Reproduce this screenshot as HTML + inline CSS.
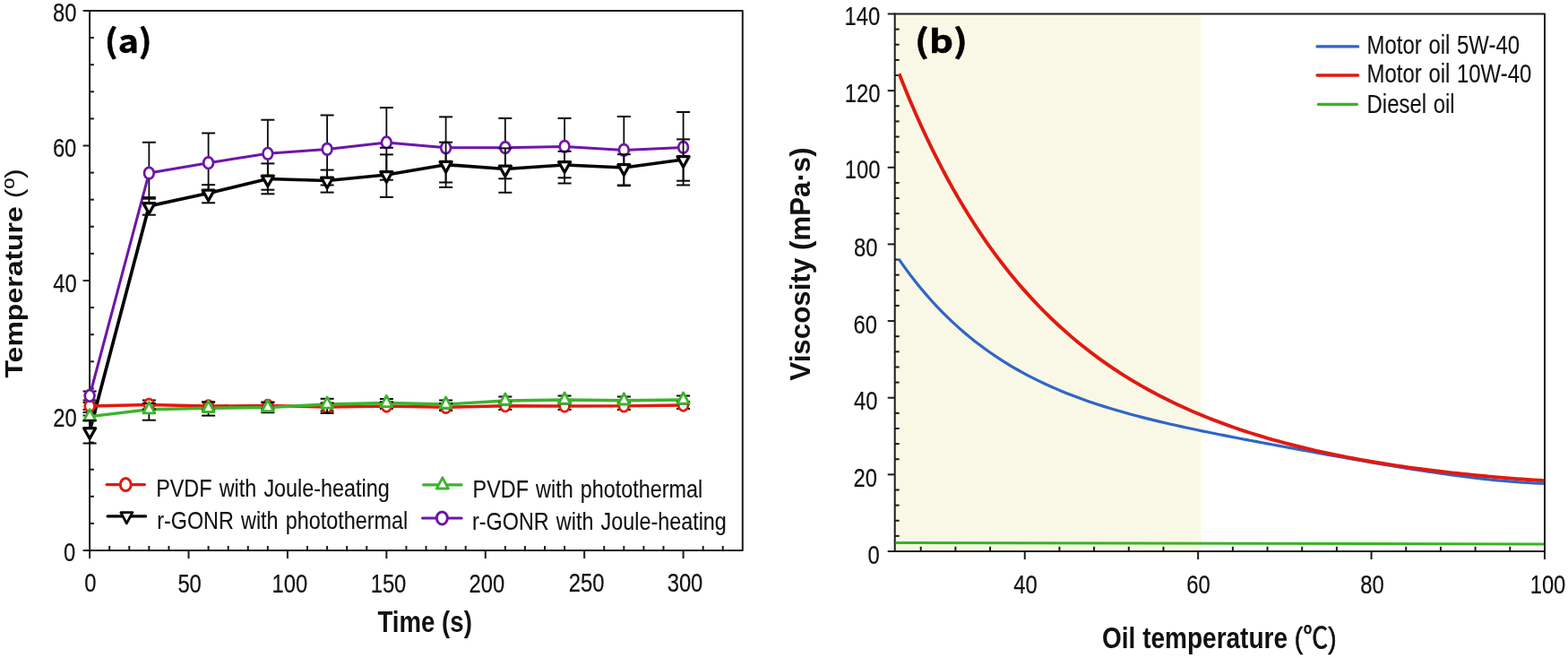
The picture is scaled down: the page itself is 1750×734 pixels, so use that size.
<!DOCTYPE html>
<html><head><meta charset="utf-8"><title>Figure</title>
<style>html,body{margin:0;padding:0;background:#fff;}svg{display:block;}</style>
</head><body>
<svg width="1750" height="734" viewBox="0 0 1750 734">
<rect width="1750" height="734" fill="#fff"/>
<path d="M100.1 12 H828.8 V614 H100.1" fill="none" stroke="#1c1c1c" stroke-width="2.0" stroke-linejoin="round"/>
<line x1="100.1" y1="11" x2="100.1" y2="615" stroke="#1c1c1c" stroke-width="2" stroke-linecap="butt"/>
<line x1="92.6" y1="614" x2="100.1" y2="614" stroke="#1c1c1c" stroke-width="2" stroke-linecap="butt"/>
<line x1="100.1" y1="583.9" x2="104.9" y2="583.9" stroke="#1c1c1c" stroke-width="2" stroke-linecap="butt"/>
<line x1="100.1" y1="553.8" x2="104.9" y2="553.8" stroke="#1c1c1c" stroke-width="2" stroke-linecap="butt"/>
<line x1="100.1" y1="523.7" x2="104.9" y2="523.7" stroke="#1c1c1c" stroke-width="2" stroke-linecap="butt"/>
<line x1="100.1" y1="493.6" x2="104.9" y2="493.6" stroke="#1c1c1c" stroke-width="2" stroke-linecap="butt"/>
<line x1="92.6" y1="463.5" x2="100.1" y2="463.5" stroke="#1c1c1c" stroke-width="2" stroke-linecap="butt"/>
<line x1="100.1" y1="433.4" x2="104.9" y2="433.4" stroke="#1c1c1c" stroke-width="2" stroke-linecap="butt"/>
<line x1="100.1" y1="403.3" x2="104.9" y2="403.3" stroke="#1c1c1c" stroke-width="2" stroke-linecap="butt"/>
<line x1="100.1" y1="373.2" x2="104.9" y2="373.2" stroke="#1c1c1c" stroke-width="2" stroke-linecap="butt"/>
<line x1="100.1" y1="343.1" x2="104.9" y2="343.1" stroke="#1c1c1c" stroke-width="2" stroke-linecap="butt"/>
<line x1="92.6" y1="313" x2="100.1" y2="313" stroke="#1c1c1c" stroke-width="2" stroke-linecap="butt"/>
<line x1="100.1" y1="282.9" x2="104.9" y2="282.9" stroke="#1c1c1c" stroke-width="2" stroke-linecap="butt"/>
<line x1="100.1" y1="252.8" x2="104.9" y2="252.8" stroke="#1c1c1c" stroke-width="2" stroke-linecap="butt"/>
<line x1="100.1" y1="222.7" x2="104.9" y2="222.7" stroke="#1c1c1c" stroke-width="2" stroke-linecap="butt"/>
<line x1="100.1" y1="192.6" x2="104.9" y2="192.6" stroke="#1c1c1c" stroke-width="2" stroke-linecap="butt"/>
<line x1="92.6" y1="162.5" x2="100.1" y2="162.5" stroke="#1c1c1c" stroke-width="2" stroke-linecap="butt"/>
<line x1="100.1" y1="132.4" x2="104.9" y2="132.4" stroke="#1c1c1c" stroke-width="2" stroke-linecap="butt"/>
<line x1="100.1" y1="102.3" x2="104.9" y2="102.3" stroke="#1c1c1c" stroke-width="2" stroke-linecap="butt"/>
<line x1="100.1" y1="72.2" x2="104.9" y2="72.2" stroke="#1c1c1c" stroke-width="2" stroke-linecap="butt"/>
<line x1="100.1" y1="42.1" x2="104.9" y2="42.1" stroke="#1c1c1c" stroke-width="2" stroke-linecap="butt"/>
<line x1="92.6" y1="12" x2="100.1" y2="12" stroke="#1c1c1c" stroke-width="2" stroke-linecap="butt"/>
<line x1="100.1" y1="614" x2="100.1" y2="623" stroke="#1c1c1c" stroke-width="2" stroke-linecap="butt"/>
<line x1="122.183" y1="609" x2="122.183" y2="614" stroke="#1c1c1c" stroke-width="2" stroke-linecap="butt"/>
<line x1="144.266" y1="609" x2="144.266" y2="614" stroke="#1c1c1c" stroke-width="2" stroke-linecap="butt"/>
<line x1="166.349" y1="609" x2="166.349" y2="614" stroke="#1c1c1c" stroke-width="2" stroke-linecap="butt"/>
<line x1="188.432" y1="609" x2="188.432" y2="614" stroke="#1c1c1c" stroke-width="2" stroke-linecap="butt"/>
<line x1="210.515" y1="614" x2="210.515" y2="623" stroke="#1c1c1c" stroke-width="2" stroke-linecap="butt"/>
<line x1="232.598" y1="609" x2="232.598" y2="614" stroke="#1c1c1c" stroke-width="2" stroke-linecap="butt"/>
<line x1="254.681" y1="609" x2="254.681" y2="614" stroke="#1c1c1c" stroke-width="2" stroke-linecap="butt"/>
<line x1="276.764" y1="609" x2="276.764" y2="614" stroke="#1c1c1c" stroke-width="2" stroke-linecap="butt"/>
<line x1="298.847" y1="609" x2="298.847" y2="614" stroke="#1c1c1c" stroke-width="2" stroke-linecap="butt"/>
<line x1="320.93" y1="614" x2="320.93" y2="623" stroke="#1c1c1c" stroke-width="2" stroke-linecap="butt"/>
<line x1="343.013" y1="609" x2="343.013" y2="614" stroke="#1c1c1c" stroke-width="2" stroke-linecap="butt"/>
<line x1="365.096" y1="609" x2="365.096" y2="614" stroke="#1c1c1c" stroke-width="2" stroke-linecap="butt"/>
<line x1="387.179" y1="609" x2="387.179" y2="614" stroke="#1c1c1c" stroke-width="2" stroke-linecap="butt"/>
<line x1="409.262" y1="609" x2="409.262" y2="614" stroke="#1c1c1c" stroke-width="2" stroke-linecap="butt"/>
<line x1="431.345" y1="614" x2="431.345" y2="623" stroke="#1c1c1c" stroke-width="2" stroke-linecap="butt"/>
<line x1="453.428" y1="609" x2="453.428" y2="614" stroke="#1c1c1c" stroke-width="2" stroke-linecap="butt"/>
<line x1="475.511" y1="609" x2="475.511" y2="614" stroke="#1c1c1c" stroke-width="2" stroke-linecap="butt"/>
<line x1="497.594" y1="609" x2="497.594" y2="614" stroke="#1c1c1c" stroke-width="2" stroke-linecap="butt"/>
<line x1="519.677" y1="609" x2="519.677" y2="614" stroke="#1c1c1c" stroke-width="2" stroke-linecap="butt"/>
<line x1="541.76" y1="614" x2="541.76" y2="623" stroke="#1c1c1c" stroke-width="2" stroke-linecap="butt"/>
<line x1="563.843" y1="609" x2="563.843" y2="614" stroke="#1c1c1c" stroke-width="2" stroke-linecap="butt"/>
<line x1="585.926" y1="609" x2="585.926" y2="614" stroke="#1c1c1c" stroke-width="2" stroke-linecap="butt"/>
<line x1="608.009" y1="609" x2="608.009" y2="614" stroke="#1c1c1c" stroke-width="2" stroke-linecap="butt"/>
<line x1="630.092" y1="609" x2="630.092" y2="614" stroke="#1c1c1c" stroke-width="2" stroke-linecap="butt"/>
<line x1="652.175" y1="614" x2="652.175" y2="623" stroke="#1c1c1c" stroke-width="2" stroke-linecap="butt"/>
<line x1="674.258" y1="609" x2="674.258" y2="614" stroke="#1c1c1c" stroke-width="2" stroke-linecap="butt"/>
<line x1="696.341" y1="609" x2="696.341" y2="614" stroke="#1c1c1c" stroke-width="2" stroke-linecap="butt"/>
<line x1="718.424" y1="609" x2="718.424" y2="614" stroke="#1c1c1c" stroke-width="2" stroke-linecap="butt"/>
<line x1="740.507" y1="609" x2="740.507" y2="614" stroke="#1c1c1c" stroke-width="2" stroke-linecap="butt"/>
<line x1="762.59" y1="614" x2="762.59" y2="623" stroke="#1c1c1c" stroke-width="2" stroke-linecap="butt"/>
<line x1="784.673" y1="609" x2="784.673" y2="614" stroke="#1c1c1c" stroke-width="2" stroke-linecap="butt"/>
<line x1="806.756" y1="609" x2="806.756" y2="614" stroke="#1c1c1c" stroke-width="2" stroke-linecap="butt"/>
<text transform="translate(72.3,24) scale(0.793,1)" font-size="30" text-anchor="middle" font-weight="normal" font-family="'Liberation Sans', Arial, sans-serif" fill="#111" stroke="#111" stroke-width="0.2">80</text>
<text transform="translate(72.1,175.2) scale(0.793,1)" font-size="30" text-anchor="middle" font-weight="normal" font-family="'Liberation Sans', Arial, sans-serif" fill="#111" stroke="#111" stroke-width="0.2">60</text>
<text transform="translate(72.4,326.2) scale(0.793,1)" font-size="30" text-anchor="middle" font-weight="normal" font-family="'Liberation Sans', Arial, sans-serif" fill="#111" stroke="#111" stroke-width="0.2">40</text>
<text transform="translate(72.4,476) scale(0.793,1)" font-size="30" text-anchor="middle" font-weight="normal" font-family="'Liberation Sans', Arial, sans-serif" fill="#111" stroke="#111" stroke-width="0.2">20</text>
<text transform="translate(77.6,625.8) scale(0.793,1)" font-size="30" text-anchor="middle" font-weight="normal" font-family="'Liberation Sans', Arial, sans-serif" fill="#111" stroke="#111" stroke-width="0.2">0</text>
<text transform="translate(100.9,660.4) scale(0.793,1)" font-size="30" text-anchor="middle" font-weight="normal" font-family="'Liberation Sans', Arial, sans-serif" fill="#111" stroke="#111" stroke-width="0.2">0</text>
<text transform="translate(211.6,661.2) scale(0.793,1)" font-size="30" text-anchor="middle" font-weight="normal" font-family="'Liberation Sans', Arial, sans-serif" fill="#111" stroke="#111" stroke-width="0.2">50</text>
<text transform="translate(323.4,660.8) scale(0.793,1)" font-size="30" text-anchor="middle" font-weight="normal" font-family="'Liberation Sans', Arial, sans-serif" fill="#111" stroke="#111" stroke-width="0.2">100</text>
<text transform="translate(433.5,660.8) scale(0.793,1)" font-size="30" text-anchor="middle" font-weight="normal" font-family="'Liberation Sans', Arial, sans-serif" fill="#111" stroke="#111" stroke-width="0.2">150</text>
<text transform="translate(543.3,660.8) scale(0.793,1)" font-size="30" text-anchor="middle" font-weight="normal" font-family="'Liberation Sans', Arial, sans-serif" fill="#111" stroke="#111" stroke-width="0.2">200</text>
<text transform="translate(654.6,660.4) scale(0.793,1)" font-size="30" text-anchor="middle" font-weight="normal" font-family="'Liberation Sans', Arial, sans-serif" fill="#111" stroke="#111" stroke-width="0.2">250</text>
<text transform="translate(764.5,660.4) scale(0.793,1)" font-size="30" text-anchor="middle" font-weight="normal" font-family="'Liberation Sans', Arial, sans-serif" fill="#111" stroke="#111" stroke-width="0.2">300</text>
<polyline points="100.1,481 166.349,229.9 232.598,215.5 298.847,199.5 365.096,201.5 431.345,195 497.594,183.7 563.843,188.5 630.092,184 696.341,187 762.59,178" fill="none" stroke="#050505" stroke-width="3.7" stroke-linejoin="round"/>
<polyline points="100.1,453 166.349,451.5 232.598,453 298.847,452.5 365.096,454 431.345,453 497.594,454.3 563.843,452.7 630.092,453 696.341,452.9 762.59,452" fill="none" stroke="#e01a0e" stroke-width="3.4" stroke-linejoin="round"/>
<polyline points="100.1,464.6 166.349,456.7 232.598,455.3 298.847,454.5 365.096,451 431.345,449.5 497.594,451 563.843,447 630.092,446 696.341,446.8 762.59,446" fill="none" stroke="#3cb42c" stroke-width="3.4" stroke-linejoin="round"/>
<polyline points="100.1,441.5 166.349,193.1 232.598,181.7 298.847,171.3 365.096,166.4 431.345,159 497.594,164.8 563.843,164.7 630.092,163.4 696.341,167.4 762.59,164.4" fill="none" stroke="#6e16aa" stroke-width="3" stroke-linejoin="round"/>
<line x1="100.1" y1="449" x2="100.1" y2="457" stroke="#0a0a0a" stroke-width="1.8" stroke-linecap="butt"/>
<line x1="92.6" y1="449" x2="107.6" y2="449" stroke="#0a0a0a" stroke-width="2" stroke-linecap="butt"/>
<line x1="92.6" y1="457" x2="107.6" y2="457" stroke="#0a0a0a" stroke-width="2" stroke-linecap="butt"/>
<line x1="166.349" y1="446.5" x2="166.349" y2="456.5" stroke="#0a0a0a" stroke-width="1.8" stroke-linecap="butt"/>
<line x1="158.849" y1="446.5" x2="173.849" y2="446.5" stroke="#0a0a0a" stroke-width="2" stroke-linecap="butt"/>
<line x1="158.849" y1="456.5" x2="173.849" y2="456.5" stroke="#0a0a0a" stroke-width="2" stroke-linecap="butt"/>
<line x1="232.598" y1="448.5" x2="232.598" y2="457.5" stroke="#0a0a0a" stroke-width="1.8" stroke-linecap="butt"/>
<line x1="225.098" y1="448.5" x2="240.098" y2="448.5" stroke="#0a0a0a" stroke-width="2" stroke-linecap="butt"/>
<line x1="225.098" y1="457.5" x2="240.098" y2="457.5" stroke="#0a0a0a" stroke-width="2" stroke-linecap="butt"/>
<line x1="298.847" y1="448.5" x2="298.847" y2="456.5" stroke="#0a0a0a" stroke-width="1.8" stroke-linecap="butt"/>
<line x1="291.347" y1="448.5" x2="306.347" y2="448.5" stroke="#0a0a0a" stroke-width="2" stroke-linecap="butt"/>
<line x1="291.347" y1="456.5" x2="306.347" y2="456.5" stroke="#0a0a0a" stroke-width="2" stroke-linecap="butt"/>
<line x1="365.096" y1="449.5" x2="365.096" y2="458.5" stroke="#0a0a0a" stroke-width="1.8" stroke-linecap="butt"/>
<line x1="357.596" y1="449.5" x2="372.596" y2="449.5" stroke="#0a0a0a" stroke-width="2" stroke-linecap="butt"/>
<line x1="357.596" y1="458.5" x2="372.596" y2="458.5" stroke="#0a0a0a" stroke-width="2" stroke-linecap="butt"/>
<line x1="431.345" y1="448.3" x2="431.345" y2="456" stroke="#0a0a0a" stroke-width="1.8" stroke-linecap="butt"/>
<line x1="423.845" y1="448.3" x2="438.845" y2="448.3" stroke="#0a0a0a" stroke-width="2" stroke-linecap="butt"/>
<line x1="423.845" y1="456" x2="438.845" y2="456" stroke="#0a0a0a" stroke-width="2" stroke-linecap="butt"/>
<line x1="497.594" y1="450" x2="497.594" y2="458" stroke="#0a0a0a" stroke-width="1.8" stroke-linecap="butt"/>
<line x1="490.094" y1="450" x2="505.094" y2="450" stroke="#0a0a0a" stroke-width="2" stroke-linecap="butt"/>
<line x1="490.094" y1="458" x2="505.094" y2="458" stroke="#0a0a0a" stroke-width="2" stroke-linecap="butt"/>
<line x1="563.843" y1="448.5" x2="563.843" y2="457" stroke="#0a0a0a" stroke-width="1.8" stroke-linecap="butt"/>
<line x1="556.343" y1="448.5" x2="571.343" y2="448.5" stroke="#0a0a0a" stroke-width="2" stroke-linecap="butt"/>
<line x1="556.343" y1="457" x2="571.343" y2="457" stroke="#0a0a0a" stroke-width="2" stroke-linecap="butt"/>
<line x1="630.092" y1="449" x2="630.092" y2="457" stroke="#0a0a0a" stroke-width="1.8" stroke-linecap="butt"/>
<line x1="622.592" y1="449" x2="637.592" y2="449" stroke="#0a0a0a" stroke-width="2" stroke-linecap="butt"/>
<line x1="622.592" y1="457" x2="637.592" y2="457" stroke="#0a0a0a" stroke-width="2" stroke-linecap="butt"/>
<line x1="696.341" y1="449" x2="696.341" y2="457" stroke="#0a0a0a" stroke-width="1.8" stroke-linecap="butt"/>
<line x1="688.841" y1="449" x2="703.841" y2="449" stroke="#0a0a0a" stroke-width="2" stroke-linecap="butt"/>
<line x1="688.841" y1="457" x2="703.841" y2="457" stroke="#0a0a0a" stroke-width="2" stroke-linecap="butt"/>
<line x1="762.59" y1="448" x2="762.59" y2="456" stroke="#0a0a0a" stroke-width="1.8" stroke-linecap="butt"/>
<line x1="755.09" y1="448" x2="770.09" y2="448" stroke="#0a0a0a" stroke-width="2" stroke-linecap="butt"/>
<line x1="755.09" y1="456" x2="770.09" y2="456" stroke="#0a0a0a" stroke-width="2" stroke-linecap="butt"/>
<ellipse cx="100.1" cy="453" rx="5.386" ry="6.3" fill="#fff" stroke="#e01a0e" stroke-width="2.7"/>
<ellipse cx="166.349" cy="451.5" rx="5.386" ry="6.3" fill="#fff" stroke="#e01a0e" stroke-width="2.7"/>
<ellipse cx="232.598" cy="453" rx="5.386" ry="6.3" fill="#fff" stroke="#e01a0e" stroke-width="2.7"/>
<ellipse cx="298.847" cy="452.5" rx="5.386" ry="6.3" fill="#fff" stroke="#e01a0e" stroke-width="2.7"/>
<ellipse cx="365.096" cy="454" rx="5.386" ry="6.3" fill="#fff" stroke="#e01a0e" stroke-width="2.7"/>
<ellipse cx="431.345" cy="453" rx="5.386" ry="6.3" fill="#fff" stroke="#e01a0e" stroke-width="2.7"/>
<ellipse cx="497.594" cy="454.3" rx="5.386" ry="6.3" fill="#fff" stroke="#e01a0e" stroke-width="2.7"/>
<ellipse cx="563.843" cy="452.7" rx="5.386" ry="6.3" fill="#fff" stroke="#e01a0e" stroke-width="2.7"/>
<ellipse cx="630.092" cy="453" rx="5.386" ry="6.3" fill="#fff" stroke="#e01a0e" stroke-width="2.7"/>
<ellipse cx="696.341" cy="452.9" rx="5.386" ry="6.3" fill="#fff" stroke="#e01a0e" stroke-width="2.7"/>
<ellipse cx="762.59" cy="452" rx="5.386" ry="6.3" fill="#fff" stroke="#e01a0e" stroke-width="2.7"/>
<line x1="100.1" y1="460" x2="100.1" y2="469.5" stroke="#0a0a0a" stroke-width="1.8" stroke-linecap="butt"/>
<line x1="92.6" y1="460" x2="107.6" y2="460" stroke="#0a0a0a" stroke-width="2" stroke-linecap="butt"/>
<line x1="92.6" y1="469.5" x2="107.6" y2="469.5" stroke="#0a0a0a" stroke-width="2" stroke-linecap="butt"/>
<line x1="166.349" y1="450" x2="166.349" y2="468.7" stroke="#0a0a0a" stroke-width="1.8" stroke-linecap="butt"/>
<line x1="158.849" y1="450" x2="173.849" y2="450" stroke="#0a0a0a" stroke-width="2" stroke-linecap="butt"/>
<line x1="158.849" y1="468.7" x2="173.849" y2="468.7" stroke="#0a0a0a" stroke-width="2" stroke-linecap="butt"/>
<line x1="232.598" y1="448.5" x2="232.598" y2="463.6" stroke="#0a0a0a" stroke-width="1.8" stroke-linecap="butt"/>
<line x1="225.098" y1="448.5" x2="240.098" y2="448.5" stroke="#0a0a0a" stroke-width="2" stroke-linecap="butt"/>
<line x1="225.098" y1="463.6" x2="240.098" y2="463.6" stroke="#0a0a0a" stroke-width="2" stroke-linecap="butt"/>
<line x1="298.847" y1="449" x2="298.847" y2="460.2" stroke="#0a0a0a" stroke-width="1.8" stroke-linecap="butt"/>
<line x1="291.347" y1="449" x2="306.347" y2="449" stroke="#0a0a0a" stroke-width="2" stroke-linecap="butt"/>
<line x1="291.347" y1="460.2" x2="306.347" y2="460.2" stroke="#0a0a0a" stroke-width="2" stroke-linecap="butt"/>
<line x1="365.096" y1="444.8" x2="365.096" y2="460.9" stroke="#0a0a0a" stroke-width="1.8" stroke-linecap="butt"/>
<line x1="357.596" y1="444.8" x2="372.596" y2="444.8" stroke="#0a0a0a" stroke-width="2" stroke-linecap="butt"/>
<line x1="357.596" y1="460.9" x2="372.596" y2="460.9" stroke="#0a0a0a" stroke-width="2" stroke-linecap="butt"/>
<line x1="431.345" y1="445" x2="431.345" y2="454" stroke="#0a0a0a" stroke-width="1.8" stroke-linecap="butt"/>
<line x1="423.845" y1="445" x2="438.845" y2="445" stroke="#0a0a0a" stroke-width="2" stroke-linecap="butt"/>
<line x1="423.845" y1="454" x2="438.845" y2="454" stroke="#0a0a0a" stroke-width="2" stroke-linecap="butt"/>
<line x1="497.594" y1="446.5" x2="497.594" y2="455.5" stroke="#0a0a0a" stroke-width="1.8" stroke-linecap="butt"/>
<line x1="490.094" y1="446.5" x2="505.094" y2="446.5" stroke="#0a0a0a" stroke-width="2" stroke-linecap="butt"/>
<line x1="490.094" y1="455.5" x2="505.094" y2="455.5" stroke="#0a0a0a" stroke-width="2" stroke-linecap="butt"/>
<line x1="563.843" y1="442.5" x2="563.843" y2="451.5" stroke="#0a0a0a" stroke-width="1.8" stroke-linecap="butt"/>
<line x1="556.343" y1="442.5" x2="571.343" y2="442.5" stroke="#0a0a0a" stroke-width="2" stroke-linecap="butt"/>
<line x1="556.343" y1="451.5" x2="571.343" y2="451.5" stroke="#0a0a0a" stroke-width="2" stroke-linecap="butt"/>
<line x1="630.092" y1="441.5" x2="630.092" y2="450.5" stroke="#0a0a0a" stroke-width="1.8" stroke-linecap="butt"/>
<line x1="622.592" y1="441.5" x2="637.592" y2="441.5" stroke="#0a0a0a" stroke-width="2" stroke-linecap="butt"/>
<line x1="622.592" y1="450.5" x2="637.592" y2="450.5" stroke="#0a0a0a" stroke-width="2" stroke-linecap="butt"/>
<line x1="696.341" y1="442.5" x2="696.341" y2="451" stroke="#0a0a0a" stroke-width="1.8" stroke-linecap="butt"/>
<line x1="688.841" y1="442.5" x2="703.841" y2="442.5" stroke="#0a0a0a" stroke-width="2" stroke-linecap="butt"/>
<line x1="688.841" y1="451" x2="703.841" y2="451" stroke="#0a0a0a" stroke-width="2" stroke-linecap="butt"/>
<line x1="762.59" y1="441.5" x2="762.59" y2="450.5" stroke="#0a0a0a" stroke-width="1.8" stroke-linecap="butt"/>
<line x1="755.09" y1="441.5" x2="770.09" y2="441.5" stroke="#0a0a0a" stroke-width="2" stroke-linecap="butt"/>
<line x1="755.09" y1="450.5" x2="770.09" y2="450.5" stroke="#0a0a0a" stroke-width="2" stroke-linecap="butt"/>
<path d="M93.6 468.8 L106.6 468.8 L100.1 456.6 Z" fill="#fff" stroke="#3cb42c" stroke-width="2.8" stroke-linejoin="round"/>
<path d="M159.849 460.9 L172.849 460.9 L166.349 448.7 Z" fill="#fff" stroke="#3cb42c" stroke-width="2.8" stroke-linejoin="round"/>
<path d="M226.098 459.5 L239.098 459.5 L232.598 447.3 Z" fill="#fff" stroke="#3cb42c" stroke-width="2.8" stroke-linejoin="round"/>
<path d="M292.347 458.7 L305.347 458.7 L298.847 446.5 Z" fill="#fff" stroke="#3cb42c" stroke-width="2.8" stroke-linejoin="round"/>
<path d="M358.596 455.2 L371.596 455.2 L365.096 443 Z" fill="#fff" stroke="#3cb42c" stroke-width="2.8" stroke-linejoin="round"/>
<path d="M424.845 453.7 L437.845 453.7 L431.345 441.5 Z" fill="#fff" stroke="#3cb42c" stroke-width="2.8" stroke-linejoin="round"/>
<path d="M491.094 455.2 L504.094 455.2 L497.594 443 Z" fill="#fff" stroke="#3cb42c" stroke-width="2.8" stroke-linejoin="round"/>
<path d="M557.343 451.2 L570.343 451.2 L563.843 439 Z" fill="#fff" stroke="#3cb42c" stroke-width="2.8" stroke-linejoin="round"/>
<path d="M623.592 450.2 L636.592 450.2 L630.092 438 Z" fill="#fff" stroke="#3cb42c" stroke-width="2.8" stroke-linejoin="round"/>
<path d="M689.841 451 L702.841 451 L696.341 438.8 Z" fill="#fff" stroke="#3cb42c" stroke-width="2.8" stroke-linejoin="round"/>
<path d="M756.09 450.2 L769.09 450.2 L762.59 438 Z" fill="#fff" stroke="#3cb42c" stroke-width="2.8" stroke-linejoin="round"/>
<line x1="100.1" y1="436.5" x2="100.1" y2="446.5" stroke="#0a0a0a" stroke-width="1.8" stroke-linecap="butt"/>
<line x1="92.6" y1="436.5" x2="107.6" y2="436.5" stroke="#0a0a0a" stroke-width="2" stroke-linecap="butt"/>
<line x1="92.6" y1="446.5" x2="107.6" y2="446.5" stroke="#0a0a0a" stroke-width="2" stroke-linecap="butt"/>
<line x1="166.349" y1="158.8" x2="166.349" y2="221.7" stroke="#0a0a0a" stroke-width="1.8" stroke-linecap="butt"/>
<line x1="158.849" y1="158.8" x2="173.849" y2="158.8" stroke="#0a0a0a" stroke-width="2" stroke-linecap="butt"/>
<line x1="158.849" y1="221.7" x2="173.849" y2="221.7" stroke="#0a0a0a" stroke-width="2" stroke-linecap="butt"/>
<line x1="232.598" y1="148.5" x2="232.598" y2="214.9" stroke="#0a0a0a" stroke-width="1.8" stroke-linecap="butt"/>
<line x1="225.098" y1="148.5" x2="240.098" y2="148.5" stroke="#0a0a0a" stroke-width="2" stroke-linecap="butt"/>
<line x1="225.098" y1="214.9" x2="240.098" y2="214.9" stroke="#0a0a0a" stroke-width="2" stroke-linecap="butt"/>
<line x1="298.847" y1="133.7" x2="298.847" y2="211.7" stroke="#0a0a0a" stroke-width="1.8" stroke-linecap="butt"/>
<line x1="291.347" y1="133.7" x2="306.347" y2="133.7" stroke="#0a0a0a" stroke-width="2" stroke-linecap="butt"/>
<line x1="291.347" y1="211.7" x2="306.347" y2="211.7" stroke="#0a0a0a" stroke-width="2" stroke-linecap="butt"/>
<line x1="365.096" y1="128.5" x2="365.096" y2="206.5" stroke="#0a0a0a" stroke-width="1.8" stroke-linecap="butt"/>
<line x1="357.596" y1="128.5" x2="372.596" y2="128.5" stroke="#0a0a0a" stroke-width="2" stroke-linecap="butt"/>
<line x1="357.596" y1="206.5" x2="372.596" y2="206.5" stroke="#0a0a0a" stroke-width="2" stroke-linecap="butt"/>
<line x1="431.345" y1="120.1" x2="431.345" y2="200.7" stroke="#0a0a0a" stroke-width="1.8" stroke-linecap="butt"/>
<line x1="423.845" y1="120.1" x2="438.845" y2="120.1" stroke="#0a0a0a" stroke-width="2" stroke-linecap="butt"/>
<line x1="423.845" y1="200.7" x2="438.845" y2="200.7" stroke="#0a0a0a" stroke-width="2" stroke-linecap="butt"/>
<line x1="497.594" y1="130.4" x2="497.594" y2="203.5" stroke="#0a0a0a" stroke-width="1.8" stroke-linecap="butt"/>
<line x1="490.094" y1="130.4" x2="505.094" y2="130.4" stroke="#0a0a0a" stroke-width="2" stroke-linecap="butt"/>
<line x1="490.094" y1="203.5" x2="505.094" y2="203.5" stroke="#0a0a0a" stroke-width="2" stroke-linecap="butt"/>
<line x1="563.843" y1="131.9" x2="563.843" y2="199.3" stroke="#0a0a0a" stroke-width="1.8" stroke-linecap="butt"/>
<line x1="556.343" y1="131.9" x2="571.343" y2="131.9" stroke="#0a0a0a" stroke-width="2" stroke-linecap="butt"/>
<line x1="556.343" y1="199.3" x2="571.343" y2="199.3" stroke="#0a0a0a" stroke-width="2" stroke-linecap="butt"/>
<line x1="630.092" y1="131.9" x2="630.092" y2="204.5" stroke="#0a0a0a" stroke-width="1.8" stroke-linecap="butt"/>
<line x1="622.592" y1="131.9" x2="637.592" y2="131.9" stroke="#0a0a0a" stroke-width="2" stroke-linecap="butt"/>
<line x1="622.592" y1="204.5" x2="637.592" y2="204.5" stroke="#0a0a0a" stroke-width="2" stroke-linecap="butt"/>
<line x1="696.341" y1="130" x2="696.341" y2="206.5" stroke="#0a0a0a" stroke-width="1.8" stroke-linecap="butt"/>
<line x1="688.841" y1="130" x2="703.841" y2="130" stroke="#0a0a0a" stroke-width="2" stroke-linecap="butt"/>
<line x1="688.841" y1="206.5" x2="703.841" y2="206.5" stroke="#0a0a0a" stroke-width="2" stroke-linecap="butt"/>
<line x1="762.59" y1="125" x2="762.59" y2="206.5" stroke="#0a0a0a" stroke-width="1.8" stroke-linecap="butt"/>
<line x1="755.09" y1="125" x2="770.09" y2="125" stroke="#0a0a0a" stroke-width="2" stroke-linecap="butt"/>
<line x1="755.09" y1="206.5" x2="770.09" y2="206.5" stroke="#0a0a0a" stroke-width="2" stroke-linecap="butt"/>
<ellipse cx="100.1" cy="441.5" rx="5.386" ry="6.3" fill="#fff" stroke="#6e16aa" stroke-width="2.7"/>
<ellipse cx="166.349" cy="193.1" rx="5.386" ry="6.3" fill="#fff" stroke="#6e16aa" stroke-width="2.7"/>
<ellipse cx="232.598" cy="181.7" rx="5.386" ry="6.3" fill="#fff" stroke="#6e16aa" stroke-width="2.7"/>
<ellipse cx="298.847" cy="171.3" rx="5.386" ry="6.3" fill="#fff" stroke="#6e16aa" stroke-width="2.7"/>
<ellipse cx="365.096" cy="166.4" rx="5.386" ry="6.3" fill="#fff" stroke="#6e16aa" stroke-width="2.7"/>
<ellipse cx="431.345" cy="159" rx="5.386" ry="6.3" fill="#fff" stroke="#6e16aa" stroke-width="2.7"/>
<ellipse cx="497.594" cy="164.8" rx="5.386" ry="6.3" fill="#fff" stroke="#6e16aa" stroke-width="2.7"/>
<ellipse cx="563.843" cy="164.7" rx="5.386" ry="6.3" fill="#fff" stroke="#6e16aa" stroke-width="2.7"/>
<ellipse cx="630.092" cy="163.4" rx="5.386" ry="6.3" fill="#fff" stroke="#6e16aa" stroke-width="2.7"/>
<ellipse cx="696.341" cy="167.4" rx="5.386" ry="6.3" fill="#fff" stroke="#6e16aa" stroke-width="2.7"/>
<ellipse cx="762.59" cy="164.4" rx="5.386" ry="6.3" fill="#fff" stroke="#6e16aa" stroke-width="2.7"/>
<line x1="100.1" y1="469" x2="100.1" y2="494.5" stroke="#0a0a0a" stroke-width="1.8" stroke-linecap="butt"/>
<line x1="92.6" y1="469" x2="107.6" y2="469" stroke="#0a0a0a" stroke-width="2" stroke-linecap="butt"/>
<line x1="92.6" y1="494.5" x2="107.6" y2="494.5" stroke="#0a0a0a" stroke-width="2" stroke-linecap="butt"/>
<line x1="166.349" y1="220.1" x2="166.349" y2="239.7" stroke="#0a0a0a" stroke-width="1.8" stroke-linecap="butt"/>
<line x1="158.849" y1="220.1" x2="173.849" y2="220.1" stroke="#0a0a0a" stroke-width="2" stroke-linecap="butt"/>
<line x1="158.849" y1="239.7" x2="173.849" y2="239.7" stroke="#0a0a0a" stroke-width="2" stroke-linecap="butt"/>
<line x1="232.598" y1="206.2" x2="232.598" y2="226.3" stroke="#0a0a0a" stroke-width="1.8" stroke-linecap="butt"/>
<line x1="225.098" y1="206.2" x2="240.098" y2="206.2" stroke="#0a0a0a" stroke-width="2" stroke-linecap="butt"/>
<line x1="225.098" y1="226.3" x2="240.098" y2="226.3" stroke="#0a0a0a" stroke-width="2" stroke-linecap="butt"/>
<line x1="298.847" y1="182.4" x2="298.847" y2="216.3" stroke="#0a0a0a" stroke-width="1.8" stroke-linecap="butt"/>
<line x1="291.347" y1="182.4" x2="306.347" y2="182.4" stroke="#0a0a0a" stroke-width="2" stroke-linecap="butt"/>
<line x1="291.347" y1="216.3" x2="306.347" y2="216.3" stroke="#0a0a0a" stroke-width="2" stroke-linecap="butt"/>
<line x1="365.096" y1="189.6" x2="365.096" y2="214.6" stroke="#0a0a0a" stroke-width="1.8" stroke-linecap="butt"/>
<line x1="357.596" y1="189.6" x2="372.596" y2="189.6" stroke="#0a0a0a" stroke-width="2" stroke-linecap="butt"/>
<line x1="357.596" y1="214.6" x2="372.596" y2="214.6" stroke="#0a0a0a" stroke-width="2" stroke-linecap="butt"/>
<line x1="431.345" y1="172.4" x2="431.345" y2="219.9" stroke="#0a0a0a" stroke-width="1.8" stroke-linecap="butt"/>
<line x1="423.845" y1="172.4" x2="438.845" y2="172.4" stroke="#0a0a0a" stroke-width="2" stroke-linecap="butt"/>
<line x1="423.845" y1="219.9" x2="438.845" y2="219.9" stroke="#0a0a0a" stroke-width="2" stroke-linecap="butt"/>
<line x1="497.594" y1="158.7" x2="497.594" y2="208.9" stroke="#0a0a0a" stroke-width="1.8" stroke-linecap="butt"/>
<line x1="490.094" y1="158.7" x2="505.094" y2="158.7" stroke="#0a0a0a" stroke-width="2" stroke-linecap="butt"/>
<line x1="490.094" y1="208.9" x2="505.094" y2="208.9" stroke="#0a0a0a" stroke-width="2" stroke-linecap="butt"/>
<line x1="563.843" y1="165.4" x2="563.843" y2="214.8" stroke="#0a0a0a" stroke-width="1.8" stroke-linecap="butt"/>
<line x1="556.343" y1="165.4" x2="571.343" y2="165.4" stroke="#0a0a0a" stroke-width="2" stroke-linecap="butt"/>
<line x1="556.343" y1="214.8" x2="571.343" y2="214.8" stroke="#0a0a0a" stroke-width="2" stroke-linecap="butt"/>
<line x1="630.092" y1="168.8" x2="630.092" y2="198.3" stroke="#0a0a0a" stroke-width="1.8" stroke-linecap="butt"/>
<line x1="622.592" y1="168.8" x2="637.592" y2="168.8" stroke="#0a0a0a" stroke-width="2" stroke-linecap="butt"/>
<line x1="622.592" y1="198.3" x2="637.592" y2="198.3" stroke="#0a0a0a" stroke-width="2" stroke-linecap="butt"/>
<line x1="696.341" y1="172.2" x2="696.341" y2="207.2" stroke="#0a0a0a" stroke-width="1.8" stroke-linecap="butt"/>
<line x1="688.841" y1="172.2" x2="703.841" y2="172.2" stroke="#0a0a0a" stroke-width="2" stroke-linecap="butt"/>
<line x1="688.841" y1="207.2" x2="703.841" y2="207.2" stroke="#0a0a0a" stroke-width="2" stroke-linecap="butt"/>
<line x1="762.59" y1="155.4" x2="762.59" y2="201.7" stroke="#0a0a0a" stroke-width="1.8" stroke-linecap="butt"/>
<line x1="755.09" y1="155.4" x2="770.09" y2="155.4" stroke="#0a0a0a" stroke-width="2" stroke-linecap="butt"/>
<line x1="755.09" y1="201.7" x2="770.09" y2="201.7" stroke="#0a0a0a" stroke-width="2" stroke-linecap="butt"/>
<line x1="423.845" y1="164.8" x2="438.845" y2="164.8" stroke="#0a0a0a" stroke-width="2" stroke-linecap="butt"/>
<path d="M93.6 477.7 L106.6 477.7 L100.1 489.3 Z" fill="#fff" stroke="#050505" stroke-width="3.3" stroke-linejoin="round"/>
<path d="M159.849 226.6 L172.849 226.6 L166.349 238.2 Z" fill="#fff" stroke="#050505" stroke-width="3.3" stroke-linejoin="round"/>
<path d="M226.098 212.2 L239.098 212.2 L232.598 223.8 Z" fill="#fff" stroke="#050505" stroke-width="3.3" stroke-linejoin="round"/>
<path d="M292.347 196.2 L305.347 196.2 L298.847 207.8 Z" fill="#fff" stroke="#050505" stroke-width="3.3" stroke-linejoin="round"/>
<path d="M358.596 198.2 L371.596 198.2 L365.096 209.8 Z" fill="#fff" stroke="#050505" stroke-width="3.3" stroke-linejoin="round"/>
<path d="M424.845 191.7 L437.845 191.7 L431.345 203.3 Z" fill="#fff" stroke="#050505" stroke-width="3.3" stroke-linejoin="round"/>
<path d="M491.094 180.4 L504.094 180.4 L497.594 192 Z" fill="#fff" stroke="#050505" stroke-width="3.3" stroke-linejoin="round"/>
<path d="M557.343 185.2 L570.343 185.2 L563.843 196.8 Z" fill="#fff" stroke="#050505" stroke-width="3.3" stroke-linejoin="round"/>
<path d="M623.592 180.7 L636.592 180.7 L630.092 192.3 Z" fill="#fff" stroke="#050505" stroke-width="3.3" stroke-linejoin="round"/>
<path d="M689.841 183.7 L702.841 183.7 L696.341 195.3 Z" fill="#fff" stroke="#050505" stroke-width="3.3" stroke-linejoin="round"/>
<path d="M756.09 174.7 L769.09 174.7 L762.59 186.3 Z" fill="#fff" stroke="#050505" stroke-width="3.3" stroke-linejoin="round"/>
<line x1="119.2" y1="540.6" x2="161.3" y2="540.6" stroke="#e01a0e" stroke-width="3.4" stroke-linecap="round"/>
<ellipse cx="140.25" cy="540.6" rx="5.985" ry="7" fill="#fff" stroke="#e01a0e" stroke-width="3"/>
<text transform="translate(174.2,554.3) scale(0.835,1)" font-size="28" text-anchor="start" font-weight="normal" font-family="'Liberation Sans', Arial, sans-serif" fill="#111" stroke="#111" stroke-width="0.1" word-spacing="2">PVDF with Joule-heating</text>
<line x1="120.2" y1="575.9" x2="162.5" y2="575.9" stroke="#050505" stroke-width="3.4" stroke-linecap="round"/>
<path d="M134.85 571.7 L147.85 571.7 L141.35 583.9 Z" fill="#fff" stroke="#050505" stroke-width="2.8" stroke-linejoin="round"/>
<text transform="translate(175.2,589.5) scale(0.835,1)" font-size="28" text-anchor="start" font-weight="normal" font-family="'Liberation Sans', Arial, sans-serif" fill="#111" stroke="#111" stroke-width="0.1" word-spacing="2">r-GONR with photothermal</text>
<line x1="472.6" y1="540.8" x2="515.1" y2="540.8" stroke="#3cb42c" stroke-width="3.2" stroke-linecap="round"/>
<path d="M487.35 545 L500.35 545 L493.85 532.8 Z" fill="#fff" stroke="#3cb42c" stroke-width="2.8" stroke-linejoin="round"/>
<text transform="translate(527.6,554.9) scale(0.835,1)" font-size="28" text-anchor="start" font-weight="normal" font-family="'Liberation Sans', Arial, sans-serif" fill="#111" stroke="#111" stroke-width="0.1" word-spacing="2">PVDF with photothermal</text>
<line x1="471.5" y1="577.9" x2="515.2" y2="577.9" stroke="#6e16aa" stroke-width="3" stroke-linecap="round"/>
<ellipse cx="493.35" cy="577.9" rx="5.985" ry="7" fill="#fff" stroke="#6e16aa" stroke-width="3"/>
<text transform="translate(527,590.8) scale(0.835,1)" font-size="28" text-anchor="start" font-weight="normal" font-family="'Liberation Sans', Arial, sans-serif" fill="#111" stroke="#111" stroke-width="0.1" word-spacing="2">r-GONR with Joule-heating</text>
<text transform="translate(116.8,58.6) scale(1.09,1)" font-size="36" text-anchor="start" font-weight="bold" font-family="'Noto Sans CJK KR', 'Liberation Sans', sans-serif" fill="#000" stroke="#000" stroke-width="0.5">(a)</text>
<text transform="translate(421.5,704.6) scale(0.855,1)" font-size="32.3" text-anchor="start" font-weight="bold" font-family="'Liberation Sans', Arial, sans-serif" fill="#111">Time (s)</text>
<text transform="translate(25.2,304.9) scale(0.887,1) rotate(-90)" font-size="32" text-anchor="middle" font-weight="bold" font-family="'Liberation Sans', Arial, sans-serif" fill="#111">Temperature <tspan font-weight="normal">(&#186;)</tspan></text>
<rect x="998.7" y="15.5" width="341.7" height="599.5" fill="#f9f8e6"/>
<path d="M998.7 15.5 H1724 V615 H998.7" fill="none" stroke="#1c1c1c" stroke-width="2.0" stroke-linejoin="round"/>
<line x1="998.7" y1="14.5" x2="998.7" y2="616" stroke="#1c1c1c" stroke-width="2" stroke-linecap="butt"/>
<line x1="990.7" y1="615" x2="998.7" y2="615" stroke="#1c1c1c" stroke-width="2" stroke-linecap="butt"/>
<line x1="998.7" y1="597.872" x2="1003.7" y2="597.872" stroke="#1c1c1c" stroke-width="2" stroke-linecap="butt"/>
<line x1="998.7" y1="580.743" x2="1003.7" y2="580.743" stroke="#1c1c1c" stroke-width="2" stroke-linecap="butt"/>
<line x1="998.7" y1="563.615" x2="1003.7" y2="563.615" stroke="#1c1c1c" stroke-width="2" stroke-linecap="butt"/>
<line x1="998.7" y1="546.486" x2="1003.7" y2="546.486" stroke="#1c1c1c" stroke-width="2" stroke-linecap="butt"/>
<line x1="990.7" y1="529.358" x2="998.7" y2="529.358" stroke="#1c1c1c" stroke-width="2" stroke-linecap="butt"/>
<line x1="998.7" y1="512.23" x2="1003.7" y2="512.23" stroke="#1c1c1c" stroke-width="2" stroke-linecap="butt"/>
<line x1="998.7" y1="495.101" x2="1003.7" y2="495.101" stroke="#1c1c1c" stroke-width="2" stroke-linecap="butt"/>
<line x1="998.7" y1="477.973" x2="1003.7" y2="477.973" stroke="#1c1c1c" stroke-width="2" stroke-linecap="butt"/>
<line x1="998.7" y1="460.844" x2="1003.7" y2="460.844" stroke="#1c1c1c" stroke-width="2" stroke-linecap="butt"/>
<line x1="990.7" y1="443.716" x2="998.7" y2="443.716" stroke="#1c1c1c" stroke-width="2" stroke-linecap="butt"/>
<line x1="998.7" y1="426.588" x2="1003.7" y2="426.588" stroke="#1c1c1c" stroke-width="2" stroke-linecap="butt"/>
<line x1="998.7" y1="409.459" x2="1003.7" y2="409.459" stroke="#1c1c1c" stroke-width="2" stroke-linecap="butt"/>
<line x1="998.7" y1="392.331" x2="1003.7" y2="392.331" stroke="#1c1c1c" stroke-width="2" stroke-linecap="butt"/>
<line x1="998.7" y1="375.202" x2="1003.7" y2="375.202" stroke="#1c1c1c" stroke-width="2" stroke-linecap="butt"/>
<line x1="990.7" y1="358.074" x2="998.7" y2="358.074" stroke="#1c1c1c" stroke-width="2" stroke-linecap="butt"/>
<line x1="998.7" y1="340.946" x2="1003.7" y2="340.946" stroke="#1c1c1c" stroke-width="2" stroke-linecap="butt"/>
<line x1="998.7" y1="323.817" x2="1003.7" y2="323.817" stroke="#1c1c1c" stroke-width="2" stroke-linecap="butt"/>
<line x1="998.7" y1="306.689" x2="1003.7" y2="306.689" stroke="#1c1c1c" stroke-width="2" stroke-linecap="butt"/>
<line x1="998.7" y1="289.56" x2="1003.7" y2="289.56" stroke="#1c1c1c" stroke-width="2" stroke-linecap="butt"/>
<line x1="990.7" y1="272.432" x2="998.7" y2="272.432" stroke="#1c1c1c" stroke-width="2" stroke-linecap="butt"/>
<line x1="998.7" y1="255.304" x2="1003.7" y2="255.304" stroke="#1c1c1c" stroke-width="2" stroke-linecap="butt"/>
<line x1="998.7" y1="238.175" x2="1003.7" y2="238.175" stroke="#1c1c1c" stroke-width="2" stroke-linecap="butt"/>
<line x1="998.7" y1="221.047" x2="1003.7" y2="221.047" stroke="#1c1c1c" stroke-width="2" stroke-linecap="butt"/>
<line x1="998.7" y1="203.918" x2="1003.7" y2="203.918" stroke="#1c1c1c" stroke-width="2" stroke-linecap="butt"/>
<line x1="990.7" y1="186.79" x2="998.7" y2="186.79" stroke="#1c1c1c" stroke-width="2" stroke-linecap="butt"/>
<line x1="998.7" y1="169.662" x2="1003.7" y2="169.662" stroke="#1c1c1c" stroke-width="2" stroke-linecap="butt"/>
<line x1="998.7" y1="152.533" x2="1003.7" y2="152.533" stroke="#1c1c1c" stroke-width="2" stroke-linecap="butt"/>
<line x1="998.7" y1="135.405" x2="1003.7" y2="135.405" stroke="#1c1c1c" stroke-width="2" stroke-linecap="butt"/>
<line x1="998.7" y1="118.276" x2="1003.7" y2="118.276" stroke="#1c1c1c" stroke-width="2" stroke-linecap="butt"/>
<line x1="990.7" y1="101.148" x2="998.7" y2="101.148" stroke="#1c1c1c" stroke-width="2" stroke-linecap="butt"/>
<line x1="998.7" y1="84.02" x2="1003.7" y2="84.02" stroke="#1c1c1c" stroke-width="2" stroke-linecap="butt"/>
<line x1="998.7" y1="66.891" x2="1003.7" y2="66.891" stroke="#1c1c1c" stroke-width="2" stroke-linecap="butt"/>
<line x1="998.7" y1="49.763" x2="1003.7" y2="49.763" stroke="#1c1c1c" stroke-width="2" stroke-linecap="butt"/>
<line x1="998.7" y1="32.634" x2="1003.7" y2="32.634" stroke="#1c1c1c" stroke-width="2" stroke-linecap="butt"/>
<line x1="990.7" y1="15.506" x2="998.7" y2="15.506" stroke="#1c1c1c" stroke-width="2" stroke-linecap="butt"/>
<line x1="1027.71" y1="609.8" x2="1027.71" y2="615" stroke="#1c1c1c" stroke-width="2" stroke-linecap="butt"/>
<line x1="1066.39" y1="609.8" x2="1066.39" y2="615" stroke="#1c1c1c" stroke-width="2" stroke-linecap="butt"/>
<line x1="1105.07" y1="609.8" x2="1105.07" y2="615" stroke="#1c1c1c" stroke-width="2" stroke-linecap="butt"/>
<line x1="1143.75" y1="615" x2="1143.75" y2="624" stroke="#1c1c1c" stroke-width="2" stroke-linecap="butt"/>
<line x1="1182.43" y1="609.8" x2="1182.43" y2="615" stroke="#1c1c1c" stroke-width="2" stroke-linecap="butt"/>
<line x1="1221.11" y1="609.8" x2="1221.11" y2="615" stroke="#1c1c1c" stroke-width="2" stroke-linecap="butt"/>
<line x1="1259.79" y1="609.8" x2="1259.79" y2="615" stroke="#1c1c1c" stroke-width="2" stroke-linecap="butt"/>
<line x1="1298.47" y1="609.8" x2="1298.47" y2="615" stroke="#1c1c1c" stroke-width="2" stroke-linecap="butt"/>
<line x1="1337.15" y1="615" x2="1337.15" y2="624" stroke="#1c1c1c" stroke-width="2" stroke-linecap="butt"/>
<line x1="1375.83" y1="609.8" x2="1375.83" y2="615" stroke="#1c1c1c" stroke-width="2" stroke-linecap="butt"/>
<line x1="1414.51" y1="609.8" x2="1414.51" y2="615" stroke="#1c1c1c" stroke-width="2" stroke-linecap="butt"/>
<line x1="1453.19" y1="609.8" x2="1453.19" y2="615" stroke="#1c1c1c" stroke-width="2" stroke-linecap="butt"/>
<line x1="1491.87" y1="609.8" x2="1491.87" y2="615" stroke="#1c1c1c" stroke-width="2" stroke-linecap="butt"/>
<line x1="1530.55" y1="615" x2="1530.55" y2="624" stroke="#1c1c1c" stroke-width="2" stroke-linecap="butt"/>
<line x1="1569.23" y1="609.8" x2="1569.23" y2="615" stroke="#1c1c1c" stroke-width="2" stroke-linecap="butt"/>
<line x1="1607.91" y1="609.8" x2="1607.91" y2="615" stroke="#1c1c1c" stroke-width="2" stroke-linecap="butt"/>
<line x1="1646.59" y1="609.8" x2="1646.59" y2="615" stroke="#1c1c1c" stroke-width="2" stroke-linecap="butt"/>
<line x1="1685.27" y1="609.8" x2="1685.27" y2="615" stroke="#1c1c1c" stroke-width="2" stroke-linecap="butt"/>
<line x1="1723.95" y1="615" x2="1723.95" y2="624" stroke="#1c1c1c" stroke-width="2" stroke-linecap="butt"/>
<text transform="translate(962.3,28) scale(0.793,1)" font-size="30" text-anchor="middle" font-weight="normal" font-family="'Liberation Sans', Arial, sans-serif" fill="#111" stroke="#111" stroke-width="0.2">140</text>
<text transform="translate(962.7,114) scale(0.793,1)" font-size="30" text-anchor="middle" font-weight="normal" font-family="'Liberation Sans', Arial, sans-serif" fill="#111" stroke="#111" stroke-width="0.2">120</text>
<text transform="translate(962.7,198.8) scale(0.793,1)" font-size="30" text-anchor="middle" font-weight="normal" font-family="'Liberation Sans', Arial, sans-serif" fill="#111" stroke="#111" stroke-width="0.2">100</text>
<text transform="translate(966.3,285.6) scale(0.793,1)" font-size="30" text-anchor="middle" font-weight="normal" font-family="'Liberation Sans', Arial, sans-serif" fill="#111" stroke="#111" stroke-width="0.2">80</text>
<text transform="translate(965.8,372.4) scale(0.793,1)" font-size="30" text-anchor="middle" font-weight="normal" font-family="'Liberation Sans', Arial, sans-serif" fill="#111" stroke="#111" stroke-width="0.2">60</text>
<text transform="translate(966.3,456.6) scale(0.793,1)" font-size="30" text-anchor="middle" font-weight="normal" font-family="'Liberation Sans', Arial, sans-serif" fill="#111" stroke="#111" stroke-width="0.2">40</text>
<text transform="translate(965.8,542.8) scale(0.793,1)" font-size="30" text-anchor="middle" font-weight="normal" font-family="'Liberation Sans', Arial, sans-serif" fill="#111" stroke="#111" stroke-width="0.2">20</text>
<text transform="translate(975,629.4) scale(0.793,1)" font-size="30" text-anchor="middle" font-weight="normal" font-family="'Liberation Sans', Arial, sans-serif" fill="#111" stroke="#111" stroke-width="0.2">0</text>
<text transform="translate(1144.5,662) scale(0.793,1)" font-size="30" text-anchor="middle" font-weight="normal" font-family="'Liberation Sans', Arial, sans-serif" fill="#111" stroke="#111" stroke-width="0.2">40</text>
<text transform="translate(1337.4,662) scale(0.793,1)" font-size="30" text-anchor="middle" font-weight="normal" font-family="'Liberation Sans', Arial, sans-serif" fill="#111" stroke="#111" stroke-width="0.2">60</text>
<text transform="translate(1531.5,662) scale(0.793,1)" font-size="30" text-anchor="middle" font-weight="normal" font-family="'Liberation Sans', Arial, sans-serif" fill="#111" stroke="#111" stroke-width="0.2">80</text>
<text transform="translate(1727.5,662) scale(0.793,1)" font-size="30" text-anchor="middle" font-weight="normal" font-family="'Liberation Sans', Arial, sans-serif" fill="#111" stroke="#111" stroke-width="0.2">100</text>
<path d="M999.7 605.5 L1723 607" stroke="#3bb224" stroke-width="3" fill="none"/>
<path d="M1003 288.863 L1009.05 297.419 L1015.101 305.606 L1021.151 313.441 L1027.202 320.938 L1033.252 328.113 L1039.303 334.981 L1045.353 341.556 L1051.403 347.85 L1057.454 353.876 L1063.504 359.647 L1069.555 365.174 L1075.605 370.469 L1081.655 375.542 L1087.706 380.403 L1093.756 385.062 L1099.807 389.529 L1105.857 393.812 L1111.908 397.92 L1117.958 401.86 L1124.008 405.642 L1130.059 409.271 L1136.109 412.756 L1142.16 416.104 L1148.21 419.32 L1154.261 422.411 L1160.311 425.383 L1166.361 428.241 L1172.412 430.992 L1178.462 433.641 L1184.513 436.191 L1190.563 438.65 L1196.613 441.02 L1202.664 443.307 L1208.714 445.514 L1214.765 447.646 L1220.815 449.707 L1226.866 451.701 L1232.916 453.631 L1238.966 455.5 L1245.017 457.312 L1251.067 459.071 L1257.118 460.778 L1263.168 462.438 L1269.218 464.053 L1275.269 465.626 L1281.319 467.159 L1287.37 468.655 L1293.42 470.116 L1299.471 471.545 L1305.521 472.944 L1311.571 474.314 L1317.622 475.659 L1323.672 476.979 L1329.723 478.277 L1335.773 479.554 L1341.824 480.813 L1347.874 482.053 L1353.924 483.278 L1359.975 484.489 L1366.025 485.686 L1372.076 486.871 L1378.126 488.045 L1384.176 489.209 L1390.227 490.365 L1396.277 491.512 L1402.328 492.653 L1408.378 493.787 L1414.429 494.915 L1420.479 496.037 L1426.529 497.156 L1432.58 498.269 L1438.63 499.379 L1444.681 500.486 L1450.731 501.588 L1456.782 502.688 L1462.832 503.784 L1468.882 504.877 L1474.933 505.966 L1480.983 507.052 L1487.034 508.134 L1493.084 509.212 L1499.134 510.286 L1505.185 511.355 L1511.235 512.418 L1517.286 513.476 L1523.336 514.528 L1529.387 515.572 L1535.437 516.61 L1541.487 517.638 L1547.538 518.658 L1553.588 519.667 L1559.639 520.666 L1565.689 521.653 L1571.739 522.628 L1577.79 523.589 L1583.84 524.535 L1589.891 525.465 L1595.941 526.379 L1601.992 527.275 L1608.042 528.152 L1614.092 529.008 L1620.143 529.843 L1626.193 530.655 L1632.244 531.443 L1638.294 532.206 L1644.345 532.942 L1650.395 533.649 L1656.445 534.327 L1662.496 534.974 L1668.546 535.587 L1674.597 536.167 L1680.647 536.71 L1686.697 537.215 L1692.748 537.68 L1698.798 538.103 L1704.849 538.482 L1710.899 538.815 L1716.95 539.1 L1723 539.334" fill="none" stroke="#2f66c6" stroke-width="3.2" stroke-linejoin="round"/>
<path d="M1003.5 82.276 L1009.546 97.38 L1015.592 111.934 L1021.639 125.962 L1027.685 139.484 L1033.731 152.523 L1039.777 165.096 L1045.824 177.224 L1051.87 188.924 L1057.916 200.213 L1063.962 211.108 L1070.008 221.624 L1076.055 231.777 L1082.101 241.58 L1088.147 251.048 L1094.193 260.193 L1100.239 269.028 L1106.286 277.566 L1112.332 285.817 L1118.378 293.792 L1124.424 301.502 L1130.471 308.958 L1136.517 316.168 L1142.563 323.142 L1148.609 329.888 L1154.655 336.416 L1160.702 342.733 L1166.748 348.847 L1172.794 354.765 L1178.84 360.495 L1184.887 366.043 L1190.933 371.417 L1196.979 376.621 L1203.025 381.663 L1209.071 386.548 L1215.118 391.282 L1221.164 395.87 L1227.21 400.317 L1233.256 404.628 L1239.303 408.807 L1245.349 412.86 L1251.395 416.791 L1257.441 420.603 L1263.487 424.302 L1269.534 427.89 L1275.58 431.371 L1281.626 434.75 L1287.672 438.028 L1293.718 441.211 L1299.765 444.301 L1305.811 447.3 L1311.857 450.212 L1317.903 453.04 L1323.95 455.787 L1329.996 458.454 L1336.042 461.045 L1342.088 463.562 L1348.134 466.007 L1354.181 468.383 L1360.227 470.692 L1366.273 472.935 L1372.319 475.116 L1378.366 477.235 L1384.412 479.294 L1390.458 481.296 L1396.504 483.242 L1402.55 485.134 L1408.597 486.974 L1414.643 488.762 L1420.689 490.501 L1426.735 492.192 L1432.782 493.836 L1438.828 495.435 L1444.874 496.99 L1450.92 498.502 L1456.966 499.972 L1463.013 501.402 L1469.059 502.793 L1475.105 504.145 L1481.151 505.46 L1487.197 506.739 L1493.244 507.983 L1499.29 509.193 L1505.336 510.369 L1511.382 511.513 L1517.429 512.625 L1523.475 513.707 L1529.521 514.758 L1535.567 515.78 L1541.613 516.774 L1547.66 517.74 L1553.706 518.679 L1559.752 519.591 L1565.798 520.477 L1571.845 521.339 L1577.891 522.176 L1583.937 522.988 L1589.983 523.778 L1596.029 524.544 L1602.076 525.289 L1608.122 526.011 L1614.168 526.712 L1620.214 527.392 L1626.261 528.051 L1632.307 528.691 L1638.353 529.311 L1644.399 529.912 L1650.445 530.494 L1656.492 531.057 L1662.538 531.603 L1668.584 532.131 L1674.63 532.641 L1680.676 533.135 L1686.723 533.612 L1692.769 534.073 L1698.815 534.517 L1704.861 534.946 L1710.908 535.359 L1716.954 535.758 L1723 536.141" fill="none" stroke="#e01a12" stroke-width="3.9" stroke-linejoin="round"/>
<line x1="1470" y1="51.9" x2="1515.7" y2="51.9" stroke="#2f66c6" stroke-width="3.2" stroke-linecap="round"/>
<line x1="1470.2" y1="84" x2="1515.5" y2="84" stroke="#e01a12" stroke-width="3.6" stroke-linecap="round"/>
<line x1="1471.3" y1="116.4" x2="1514.4" y2="116.4" stroke="#3bb224" stroke-width="3.2" stroke-linecap="round"/>
<text transform="translate(1525.6,59.7) scale(0.836,1)" font-size="28.6" text-anchor="start" font-weight="normal" font-family="'Liberation Sans', Arial, sans-serif" fill="#111" stroke="#111" stroke-width="0.1" word-spacing="1.3">Motor oil 5W-40</text>
<text transform="translate(1525.6,91.8) scale(0.836,1)" font-size="28.6" text-anchor="start" font-weight="normal" font-family="'Liberation Sans', Arial, sans-serif" fill="#111" stroke="#111" stroke-width="0.1" word-spacing="1.3">Motor oil 10W-40</text>
<text transform="translate(1525.6,125.5) scale(0.836,1)" font-size="28.6" text-anchor="start" font-weight="normal" font-family="'Liberation Sans', Arial, sans-serif" fill="#111" stroke="#111" stroke-width="0.1" word-spacing="1.3">Diesel oil</text>
<text transform="translate(1021,58.6) scale(1.168,1)" font-size="36" text-anchor="start" font-weight="bold" font-family="'Noto Sans CJK KR', 'Liberation Sans', sans-serif" fill="#000" stroke="#000" stroke-width="0.5">(b)</text>
<text transform="translate(1230,722.7) scale(0.857,1)" font-size="32.7" text-anchor="start" font-weight="bold" font-family="'Liberation Sans', Arial, sans-serif" fill="#111">Oil temperature <tspan font-weight="normal" stroke="#111" stroke-width="0.7" font-family="&apos;Liberation Sans&apos;, &apos;Noto Sans CJK KR&apos;, sans-serif">(&#8451;)</tspan></text>
<text transform="translate(904.3,294.5) scale(0.973,1) rotate(-90)" font-size="31.3" text-anchor="middle" font-weight="bold" font-family="'Liberation Sans', Arial, sans-serif" fill="#111">Viscosity (mPa&#183;s)</text>
</svg>
</body></html>
